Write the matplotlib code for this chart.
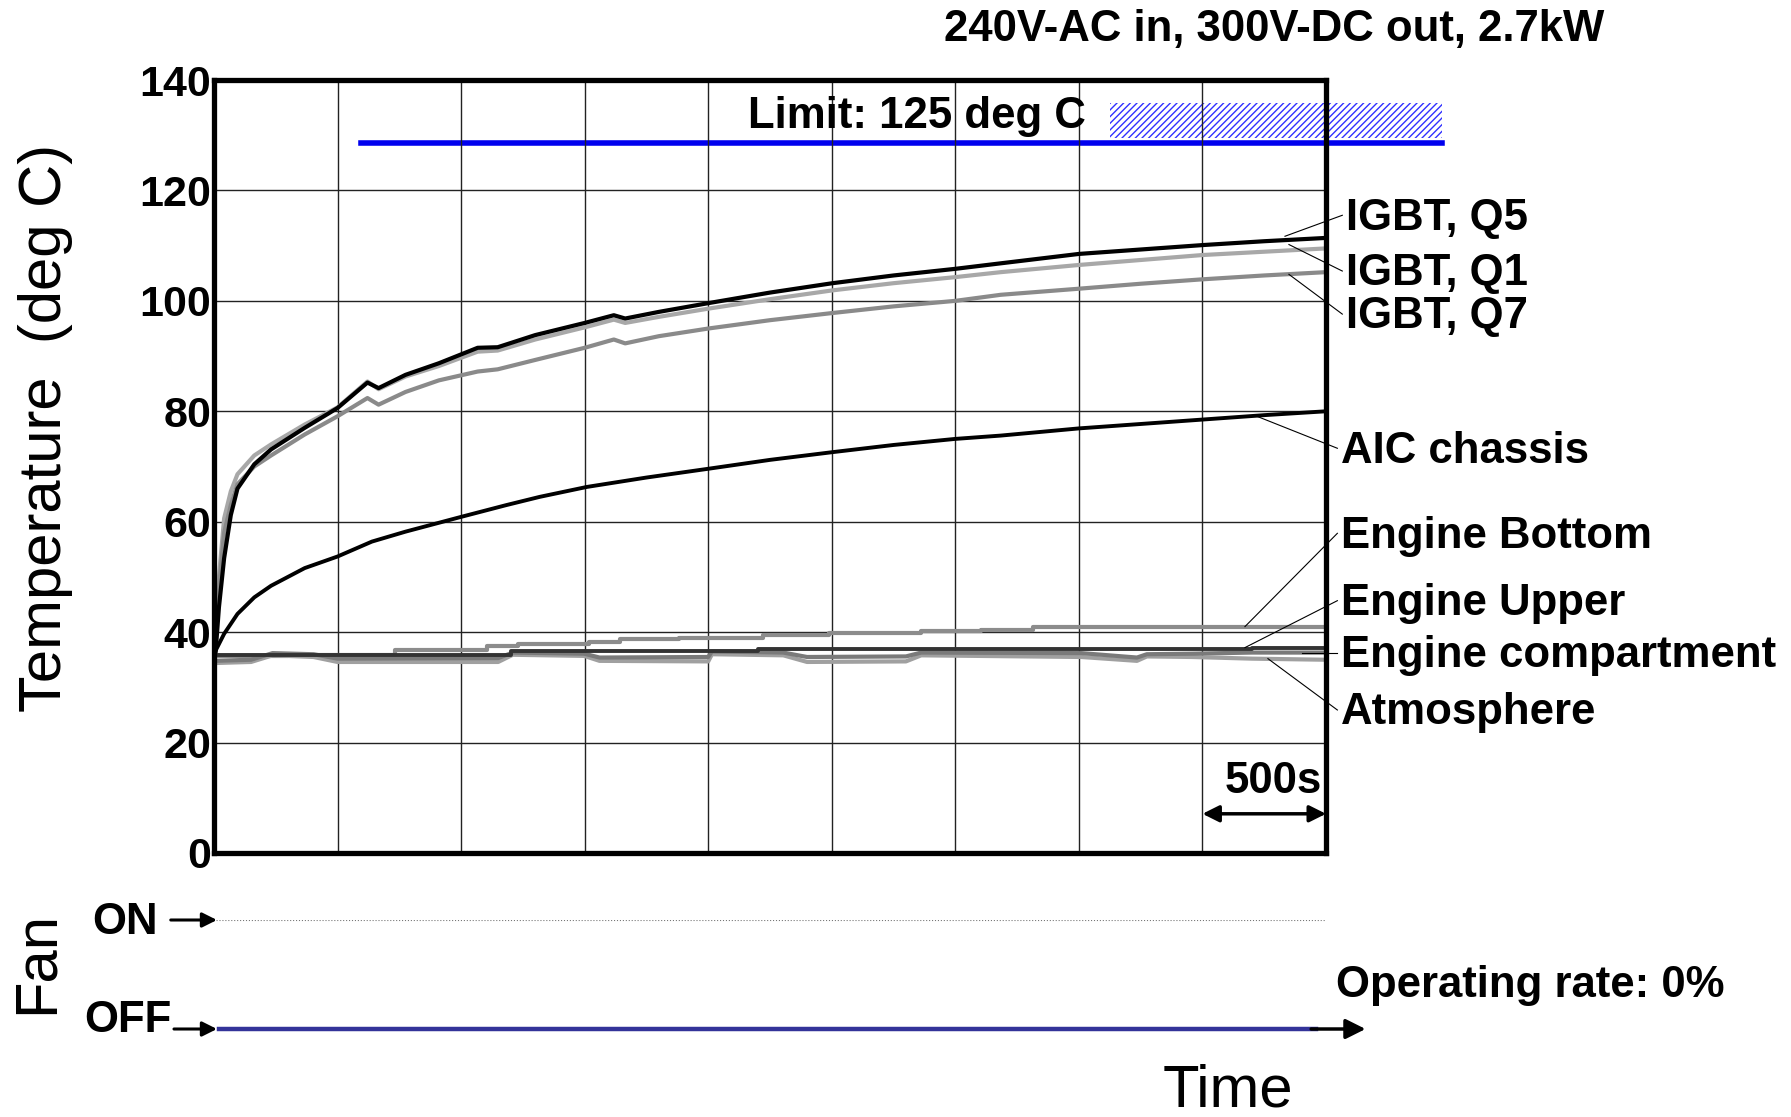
import numpy as np
import matplotlib
matplotlib.use("Agg")
import matplotlib.pyplot as plt
from matplotlib.patches import Rectangle

plt.rcParams['font.family'] = ['Liberation Sans', 'DejaVu Sans']
plt.rcParams['hatch.linewidth'] = 1.0

# ---- data (time in s, temperature in deg C) ----
t_igbt = [0, 7, 20, 41, 68, 95, 163, 231, 367, 500, 621, 666, 775, 910, 1067, 1148,
          1300, 1500, 1618, 1664, 1800, 2002, 2250, 2503, 2750, 3000, 3184, 3500,
          3750, 4000, 4250, 4500]
igbt_q5 = [35, 36.7, 44.5, 53.4, 61.2, 66.0, 70.4, 73.1, 77, 80.6, 85.2, 84.2, 86.6,
           88.7, 91.5, 91.6, 93.8, 96, 97.4, 96.8, 98, 99.6, 101.5, 103.2, 104.6,
           105.8, 106.8, 108.5, 109.3, 110.1, 110.8, 111.4]
igbt_q1 = [35, 40, 50, 60.6, 65.5, 68.6, 72, 74, 77.6, 80.7, 85.4, 84.0, 86.3, 88.2,
           90.8, 91.0, 93.0, 95.2, 96.6, 96.0, 97.1, 98.6, 100.3, 101.9, 103.2,
           104.3, 105.2, 106.5, 107.4, 108.3, 108.9, 109.5]
igbt_q7 = [35, 39, 48, 58, 63, 66.8, 70, 72, 75.8, 79.1, 82.4, 81.2, 83.5, 85.6,
           87.2, 87.6, 89.3, 91.5, 93, 92.3, 93.6, 95, 96.5, 97.8, 99, 100, 101.1,
           102.2, 103.1, 103.9, 104.6, 105.2]

t_aic = [0, 7, 41, 95, 163, 231, 367, 500, 639, 775, 1002, 1182, 1318, 1509, 1750,
         2002, 2250, 2503, 2750, 3000, 3184, 3500, 3750, 4000, 4250, 4500]
aic_chassis = [35, 36.7, 39.7, 43.3, 46.3, 48.4, 51.6, 53.7, 56.4, 58.2, 60.9, 63,
               64.5, 66.3, 68.0, 69.6, 71.2, 72.6, 73.9, 75.0, 75.6, 76.9, 77.7,
               78.5, 79.3, 80.0]

t_bottom = [0, 300, 733, 1105, 1230, 1519, 1643, 1880, 2221, 2490, 2862, 3105, 3316, 4500]
engine_bottom = [35.6, 35.9, 36.7, 37.4, 37.9, 38.3, 38.7, 39.0, 39.4, 39.9, 40.2,
                 40.4, 41.0, 41.0]

t_upper = [0, 1200, 2200, 4200, 4500]
engine_upper = [35.8, 36.5, 37.0, 37.2, 37.2]

t_amb = [0, 150, 237, 403, 500, 1150, 1209, 1498, 1560, 2000, 2015, 2304, 2400,
         2800, 2862, 3510, 3735, 3775, 3960, 4200, 4500]
engine_comp = [34.8, 35.0, 36.2, 36.0, 35.2, 35.3, 36.3, 36.1, 35.4, 35.5, 36.5,
               36.3, 35.5, 35.6, 36.3, 36.2, 35.4, 36.0, 36.1, 36.3, 36.3]
atmosphere = [34.4, 34.6, 35.8, 35.5, 34.6, 34.6, 35.9, 35.7, 34.8, 34.7, 36.0,
              35.8, 34.6, 34.7, 35.8, 35.5, 34.8, 35.6, 35.5, 35.2, 35.0]

limit_t = [595, 4970]
limit_temp = [128.6, 128.6]

fan_t = [20, 4460]
fan_state = [0, 0]   # 0 = OFF, 1 = ON

# label text, point on curve, label anchor
labels = [
    ("IGBT, Q5", (4334, 111.7), (4581, 115.0)),
    ("IGBT, Q1", (4350, 110.2), (4581, 104.9)),
    ("IGBT, Q7", (4350, 104.8), (4581, 97.1)),
    ("AIC chassis", (4220, 79.1), (4561, 72.8)),
    ("Engine Bottom", (4172, 41.0), (4561, 57.4)),
    ("Engine Upper", (4172, 37.2), (4561, 45.2)),
    ("Engine compartment", (4403, 36.3), (4561, 35.8)),
    ("Atmosphere", (4265, 35.2), (4561, 25.4)),
]

W, H = 1791, 1117
fig = plt.figure(figsize=(W / 100, H / 100), dpi=100)

ax = fig.add_axes([214 / W, 1 - 853 / H, 1112 / W, 773 / H])
ax.plot(t_igbt, igbt_q1, color='#a8a8a8', lw=3)
ax.plot(t_igbt, igbt_q7, color='#8a8a8a', lw=3)
ax.plot(t_igbt, igbt_q5, color='black', lw=3)
ax.plot(t_aic, aic_chassis, color='black', lw=2.8)
ax.plot(t_bottom, engine_bottom, color='#8c8c8c', lw=3, drawstyle='steps-post')
ax.plot(t_amb, atmosphere, color='#a0a0a0', lw=3)
ax.plot(t_amb, engine_comp, color='#7a7a7a', lw=3)
ax.plot(t_upper, engine_upper, color='#333333', lw=2.8, drawstyle='steps-post')

# temperature limit
ax.plot(limit_t, limit_temp, color='#0000ee', lw=4, clip_on=False, zorder=1.5)
ax.add_patch(Rectangle((3626, 129.5), 4970 - 3626, 6.3, facecolor='white',
                       edgecolor='#3030ff', hatch='/////', lw=0, clip_on=False, zorder=1))
ax.text(2161, 133.3, "Limit: 125 deg C", fontsize=31.5, fontweight='bold', va='center')

ax.set_xlim(0, 4500)
ax.set_ylim(0, 140)
ax.set_xticks(range(0, 4501, 500))
ax.set_yticks(range(0, 141, 20))
ax.set_xticklabels([])
ax.tick_params(length=0, pad=2, labelsize=31)
for lab in ax.get_yticklabels():
    lab.set_fontweight('bold')
ax.grid(color='#222222', lw=1)
for s in ax.spines.values():
    s.set_linewidth(3.8)
    s.set_zorder(3)

for name, (px, py), (lx, ly) in labels:
    ax.plot([px, lx - 15], [py, ly + 0.5], color='black', lw=0.8, clip_on=False)
    ax.text(lx, ly, name, fontsize=31.5, fontweight='bold', va='center', ha='left')

# 500 s scale marker
ax.annotate('', xy=(4000, 7.1), xytext=(4500, 7.1),
            arrowprops=dict(arrowstyle='<|-|>', lw=2.5, color='black',
                            mutation_scale=25, shrinkA=0, shrinkB=0))
ax.text(4484, 13.0, "500s", fontsize=31.5, fontweight='bold', ha='right', va='center')

# fan state
fan = fig.add_axes([214 / W, 1 - 1029 / H, 1112 / W, 109 / H])
fan.set_xlim(0, 4500)
fan.set_ylim(0, 1)
fan.axis('off')
fan.plot([10, 4530], [1, 1], ls=':', color='#777777', lw=0.8)
fan.annotate('', xy=(4660, 0), xytext=(4440, 0), annotation_clip=False,
             arrowprops=dict(arrowstyle='-|>', lw=2.5, color='black',
                             mutation_scale=30, shrinkA=0, shrinkB=0))
fan.plot(fan_t, fan_state, color='#333399', lw=3.2, clip_on=False)
for yy, x0 in [(1, -175), (0, -162)]:
    fan.annotate('', xy=(12, yy), xytext=(x0, yy), annotation_clip=False,
                 arrowprops=dict(arrowstyle='-|>', lw=2.2, color='black',
                                 mutation_scale=22, shrinkA=0, shrinkB=0))

fig.text(158 / W, 1 - 922 / H, "ON", fontsize=31.5, fontweight='bold', ha='right', va='center')
fig.text(171 / W, 1 - 1020 / H, "OFF", fontsize=31.5, fontweight='bold', ha='right', va='center')
fig.text(1336 / W, 1 - 985 / H, "Operating rate: 0%", fontsize=31.5, fontweight='bold', va='center')
fig.text(944 / W, 1 - 29 / H, "240V-AC in, 300V-DC out, 2.7kW", fontsize=31.5,
         fontweight='bold', va='center')
fig.text(46 / W, 1 - 428 / H, "Temperature  (deg C)", fontsize=43, rotation=90,
         ha='center', va='center')
fig.text(37 / W, 1 - 963 / H, "Fan", fontsize=43, rotation=90, ha='center', va='center')
fig.text(1228 / W, 1 - 1091 / H, "Time", fontsize=43, ha='center', va='center')

fig.savefig("out.png", dpi=100)
